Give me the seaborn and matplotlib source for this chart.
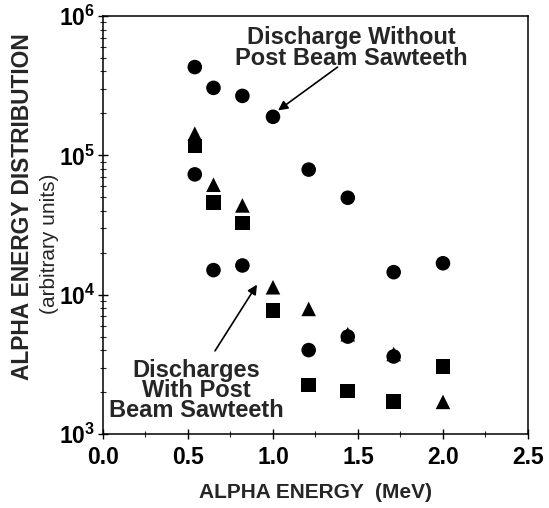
import pandas as pd
import matplotlib
matplotlib.use('Agg')
import matplotlib.pyplot as plt
import matplotlib.ticker as mticker
import seaborn as sns
import numpy as np

# Alpha energy (MeV) grid used by all series
energy = [0.54, 0.65, 0.82, 1.0, 1.21, 1.44, 1.71, 2.0]

# Discharge without post beam sawteeth (circles, upper)
circ_without = [4.3e5, 3.05e5, 2.67e5, 1.89e5, 7.9e4, 4.96e4, 1.45e4, 1.68e4]

# Discharges with post beam sawteeth
circ_with_x = [0.54, 0.65, 0.82, 1.21, 1.44, 1.71]
circ_with = [7.3e4, 1.5e4, 1.62e4, 4.0e3, 5.0e3, 3.6e3]
tri_with = [1.43e5, 6.15e4, 4.37e4, 1.13e4, 7.9e3, 5.2e3, 3.75e3, 1.7e3]
sq_with = [1.17e5, 4.6e4, 3.26e4, 7.7e3, 2.24e3, 2.04e3, 1.71e3, 3.05e3]

x_ticks = [0.0, 0.5, 1.0, 1.5, 2.0, 2.5]
y_ticks = [1e3, 1e4, 1e5, 1e6]
y_ticklabels = [r'$\mathbf{10^{3}}$', r'$\mathbf{10^{4}}$', r'$\mathbf{10^{5}}$', r'$\mathbf{10^{6}}$']

df = pd.concat([
    pd.DataFrame({'E': energy, 'N': circ_without, 'shot': 'A'}),
    pd.DataFrame({'E': circ_with_x, 'N': circ_with, 'shot': 'B'}),
    pd.DataFrame({'E': energy, 'N': tri_with, 'shot': 'C'}),
    pd.DataFrame({'E': energy, 'N': sq_with, 'shot': 'D'}),
], ignore_index=True)

sns.set_style('ticks')
plt.rcParams['font.family'] = ['Liberation Sans', 'DejaVu Sans']
plt.rcParams['mathtext.fontset'] = 'custom'
plt.rcParams['mathtext.bf'] = 'Liberation Sans:bold'
plt.rcParams['mathtext.rm'] = 'Liberation Sans'

fig = plt.figure(figsize=(5.49, 5.08), dpi=100)
ax = fig.add_axes([0.1876, 0.1457, 0.7741, 0.8228])

sns.scatterplot(data=df, x='E', y='N', style='shot',
                markers={'A': 'o', 'B': 'o', 'C': '^', 'D': 's'},
                color='black', s=110, linewidth=0, legend=False, ax=ax)

ax.set_yscale('log')
ax.set_xlim(0, 2.5)
ax.set_ylim(1e3, 1e6)
ax.set_xticks(x_ticks)
ax.set_xticklabels([f'{t:.1f}' for t in x_ticks], fontweight='bold')
ax.xaxis.set_minor_locator(mticker.MultipleLocator(0.25))
ax.set_yticks(y_ticks)
ax.set_yticklabels(y_ticklabels)
ax.yaxis.set_minor_locator(mticker.LogLocator(base=10, subs=np.arange(2, 10)))
ax.yaxis.set_minor_formatter(mticker.NullFormatter())
ax.tick_params(axis='both', which='major', direction='inout', length=7,
               width=1, labelsize=16.5, colors='black')
ax.tick_params(axis='x', which='major', pad=5)
ax.tick_params(axis='y', which='major', pad=2)
ax.tick_params(axis='both', which='minor', direction='inout', length=4, width=0.8)
for sp in ax.spines.values():
    sp.set_linewidth(1.1)
    sp.set_color('black')

ax.set_xlabel('ALPHA ENERGY  (MeV)', fontsize=15, fontweight='bold', labelpad=10)
ax.set_ylabel('')
fig.text(0.041, 0.594, 'ALPHA ENERGY DISTRIBUTION', rotation=90, fontsize=16.4,
         fontweight='bold', ha='center', va='center')
fig.text(0.090, 0.52, '(arbitrary units)', rotation=90, fontsize=15,
         ha='center', va='center')

# annotations
ax.text(1.46, 5.9e5, 'Discharge Without\nPost Beam Sawteeth', fontsize=17,
        fontweight='bold', ha='center', va='center', linespacing=0.85)
ax.annotate('', xy=(1.03, 2.1e5), xytext=(1.38, 4.3e5),
            arrowprops=dict(arrowstyle='-|>', color='black', lw=1.2,
                            mutation_scale=14, shrinkA=0, shrinkB=0))
ax.text(0.55, 2.05e3, 'Discharges\nWith Post\nBeam Sawteeth', fontsize=17,
        fontweight='bold', ha='center', va='center', linespacing=0.85)
ax.annotate('', xy=(0.906, 1.18e4), xytext=(0.659, 3.95e3),
            arrowprops=dict(arrowstyle='-|>', color='black', lw=1.2,
                            mutation_scale=14, shrinkA=0, shrinkB=0))

fig.savefig('out.png', dpi=100)
